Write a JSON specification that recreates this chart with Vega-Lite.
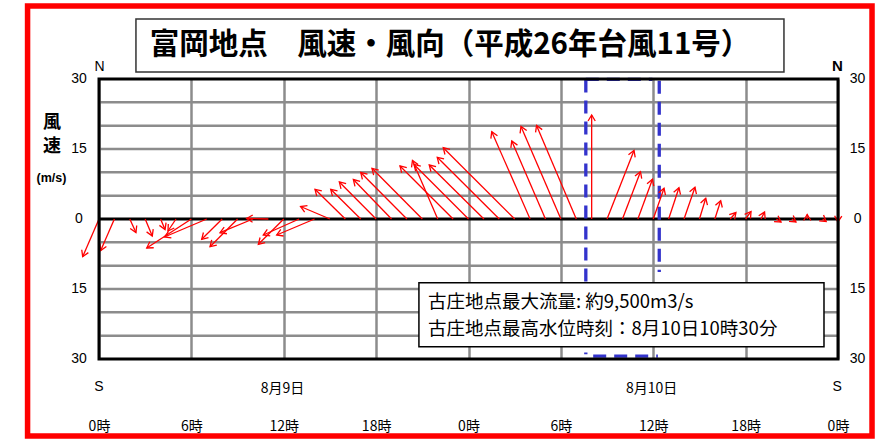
{
 "$schema": "https://vega.github.io/schema/vega-lite/v6.json",
 "width": 739, "height": 280,
 "autosize": "none",
 "padding": {"left": 99, "top": 79, "right": 55, "bottom": 81},
 "background": "white",
 "config": {"view": {"stroke": null}},
 "datasets": {
  "arrows": [
   {"t":0,"base":0,"ex":-1.06,"ey":-8.08,"angle":203.4},
   {"t":1,"base":0,"ex":0.11,"ey":-6.75,"angle":203.5},
   {"t":2,"base":0,"ex":2.40,"ey":-2.89,"angle":155.3},
   {"t":3,"base":0,"ex":3.46,"ey":-3.64,"angle":156.8},
   {"t":4,"base":0,"ex":4.29,"ey":-2.25,"angle":157.3},
   {"t":5,"base":0,"ex":4.48,"ey":-2.57,"angle":213.7},
   {"t":6,"base":0,"ex":3.10,"ey":-6.21,"angle":237.0},
   {"t":7,"base":0,"ex":4.25,"ey":-3.86,"angle":246.9},
   {"t":8,"base":0,"ex":6.67,"ey":-4.35,"angle":225.3},
   {"t":9,"base":0,"ex":7.21,"ey":-5.94,"angle":224.9},
   {"t":10,"base":0,"ex":7.86,"ey":-2.94,"angle":247.5},
   {"t":11,"base":0,"ex":9.59,"ey":0.11,"angle":271.3},
   {"t":12,"base":0,"ex":10.35,"ey":-5.42,"angle":225.2},
   {"t":13,"base":0,"ex":10.67,"ey":-3.43,"angle":245.9},
   {"t":14,"base":0,"ex":11.54,"ey":-3.43,"angle":247.1},
   {"t":15,"base":0,"ex":13.09,"ey":2.68,"angle":293.0},
   {"t":16,"base":0,"ex":14.03,"ey":6.36,"angle":314.4},
   {"t":17,"base":0,"ex":15.05,"ey":6.36,"angle":314.7},
   {"t":18,"base":0,"ex":15.61,"ey":7.93,"angle":315.2},
   {"t":19,"base":0,"ex":16.52,"ey":8.46,"angle":315.6},
   {"t":20,"base":0,"ex":17.00,"ey":9.96,"angle":315.2},
   {"t":21,"base":0,"ex":17.73,"ey":10.86,"angle":315.2},
   {"t":22,"base":0,"ex":20.36,"ey":12.53,"angle":336.7},
   {"t":23,"base":0,"ex":19.55,"ey":11.36,"angle":315.0},
   {"t":24,"base":0,"ex":20.46,"ey":11.68,"angle":315.0},
   {"t":25,"base":0,"ex":21.45,"ey":11.57,"angle":314.7},
   {"t":26,"base":0,"ex":21.97,"ey":13.22,"angle":314.9},
   {"t":27,"base":0,"ex":22.36,"ey":15.28,"angle":315.0},
   {"t":28,"base":0,"ex":25.51,"ey":18.71,"angle":336.3},
   {"t":29,"base":0,"ex":26.81,"ey":16.71,"angle":336.6},
   {"t":30,"base":0,"ex":27.41,"ey":19.82,"angle":336.7},
   {"t":31,"base":0,"ex":28.42,"ey":20.03,"angle":336.9},
   {"t":32,"base":0,"ex":32.0,"ey":22.28,"angle":0},
   {"t":33,"base":0,"ex":34.75,"ey":14.68,"angle":21.4},
   {"t":34,"base":0,"ex":35.17,"ey":10.13,"angle":20.8},
   {"t":35,"base":0,"ex":35.95,"ey":8.51,"angle":20.2},
   {"t":36,"base":0,"ex":36.70,"ey":6.58,"angle":19.2},
   {"t":37,"base":0,"ex":37.67,"ey":6.69,"angle":18.3},
   {"t":38,"base":0,"ex":38.71,"ey":6.79,"angle":19.0},
   {"t":39,"base":0,"ex":39.41,"ey":4.44,"angle":16.9},
   {"t":40,"base":0,"ex":40.38,"ey":3.92,"angle":17.6},
   {"t":41,"base":0,"ex":41.37,"ey":1.39,"angle":41.2},
   {"t":42,"base":0,"ex":42.35,"ey":1.61,"angle":35.2},
   {"t":43,"base":0,"ex":43.23,"ey":1.50,"angle":25.9},
   {"t":44,"base":0,"ex":44.30,"ey":-0.64,"angle":123.7},
   {"t":45,"base":0,"ex":45.27,"ey":-0.64,"angle":126.2},
   {"t":46,"base":0,"ex":46.0,"ey":0.96,"angle":0},
   {"t":47,"base":0,"ex":47.23,"ey":-0.54,"angle":127.1},
   {"t":48,"base":0,"ex":47.99,"ey":-0.64,"angle":183.8}
  ]
 },
 "layer": [
  {
   "data": {"values": [{"x0": -4.64, "x1": 50.21, "y0": 45.64, "y1": -46.5}]},
   "mark": {"type": "rect", "fill": null, "stroke": "#ff0000", "strokeWidth": 5.5},
   "encoding": {
    "x": {"field": "x0", "type": "quantitative",
     "scale": {"domain": [0, 48], "nice": false, "zero": false},
     "axis": {"values": [0, 6, 12, 18, 24, 30, 36, 42, 48], "labelExpr": "(datum.value % 24) + '時'", "title": null, "domain": false, "ticks": false, "tickSize": 0, "labelPadding": 60, "labelFont": "Noto Sans CJK JP", "labelFontSize": 14, "labelColor": "#000000", "labelFlush": false, "labelOverlap": false, "grid": true, "gridColor": "#8c8c8c", "gridWidth": 2.5}},
    "x2": {"field": "x1"},
    "y": {"field": "y0", "type": "quantitative",
     "scale": {"domain": [-30, 30], "nice": false, "zero": false},
     "axis": {"title": null, "labels": false, "grid": false, "domain": false, "ticks": false}},
    "y2": {"field": "y1"}
   }
  },
  {
   "data": {"values": [{"x0": 2.40, "x1": 44.49, "y0": 42.85, "y1": 31.5}]},
   "mark": {"type": "rect", "fill": "#ffffff", "stroke": "#333333", "strokeWidth": 1.5},
   "encoding": {
    "x": {"field": "x0", "type": "quantitative"},
    "x2": {"field": "x1"},
    "y": {"field": "y0", "type": "quantitative"},
    "y2": {"field": "y1"}
   }
  },
  {
   "data": {"values": [{"text": "富岡地点　風速・風向（平成26年台風11号）", "h": 22.8, "v": 37.28}]},
   "mark": {"type": "text", "align": "center", "baseline": "middle", "font": "Noto Sans CJK JP", "fontWeight": "bold", "fontSize": 29.5, "color": "#000000"},
   "encoding": {
    "x": {"field": "h", "type": "quantitative"},
    "y": {"field": "v", "type": "quantitative"},
    "text": {"field": "text"}
   }
  },
  {
   "data": {"values": [
    {"g": -25}, {"g": -20}, {"g": -15}, {"g": -10}, {"g": -5},
    {"g": 5}, {"g": 10}, {"g": 15}, {"g": 20}, {"g": 25}
   ]},
   "mark": {"type": "rule", "color": "#8c8c8c", "strokeWidth": 2.5},
   "encoding": {"y": {"field": "g", "type": "quantitative"}}
  },
  {
   "data": {"values": [{"z": 0}]},
   "mark": {"type": "rule", "color": "#000000", "strokeWidth": 3},
   "encoding": {"y": {"field": "z", "type": "quantitative"}}
  },
  {
   "data": {"values": [
    {"x0": 31.62, "x1": 31.62, "y0": 29.9, "y1": -29.0},
    {"x0": 31.62, "x1": 35.95, "y0": 29.9, "y1": 29.9},
    {"x0": 32.1, "x1": 36.3, "y0": -29.4, "y1": -29.4},
    {"x0": 36.39, "x1": 36.39, "y0": 29.6, "y1": -11.36}
   ]},
   "mark": {"type": "rule", "color": "#3333cc", "strokeWidth": 3.3, "strokeDash": [13, 8]},
   "encoding": {
    "x": {"field": "x0", "type": "quantitative"},
    "x2": {"field": "x1"},
    "y": {"field": "y0", "type": "quantitative"},
    "y2": {"field": "y1"}
   }
  },
  {
   "data": {"name": "arrows"},
   "mark": {"type": "rule", "color": "#ff0000", "strokeWidth": 1.3},
   "encoding": {
    "x": {"field": "t", "type": "quantitative",
     "axis": {"values": [0, 6, 12, 18, 24, 30, 36, 42, 48], "labelExpr": "(datum.value % 24) + '時'", "title": null, "domain": false, "ticks": false, "tickSize": 0, "labelPadding": 60, "labelFont": "Noto Sans CJK JP", "labelFontSize": 14, "labelColor": "#000000", "labelFlush": false, "labelOverlap": false, "grid": true, "gridColor": "#8c8c8c", "gridWidth": 2.5}},
    "x2": {"field": "ex"},
    "y": {"field": "base", "type": "quantitative",
     "axis": {"title": null, "labels": false, "grid": false, "domain": false, "ticks": false}},
    "y2": {"field": "ey"}
   }
  },
  {
   "data": {"name": "arrows"},
   "mark": {"type": "point", "shape": "M-0.6,1L0,0L0.6,1", "filled": false, "size": 144, "strokeWidth": 1.3, "color": "#ff0000", "opacity": 1},
   "encoding": {
    "x": {"field": "ex", "type": "quantitative"},
    "y": {"field": "ey", "type": "quantitative"},
    "angle": {"field": "angle", "type": "quantitative", "scale": null}
   }
  },
  {
   "data": {"values": [{"x0": 0, "x1": 48, "y0": 30, "y1": -30}]},
   "mark": {"type": "rect", "fill": null, "stroke": "#000000", "strokeWidth": 3},
   "encoding": {
    "x": {"field": "x0", "type": "quantitative"},
    "x2": {"field": "x1"},
    "y": {"field": "y0", "type": "quantitative"},
    "y2": {"field": "y1"}
   }
  },
  {
   "data": {"values": [{"x0": 20.78, "x1": 47.09, "y0": -13.65, "y1": -27.36}]},
   "mark": {"type": "rect", "fill": "#ffffff", "stroke": "#000000", "strokeWidth": 1.5},
   "encoding": {
    "x": {"field": "x0", "type": "quantitative"},
    "x2": {"field": "x1"},
    "y": {"field": "y0", "type": "quantitative"},
    "y2": {"field": "y1"}
   }
  },
  {
   "data": {"values": [
    {"text": "古庄地点最大流量: 約9,500m3/s", "h": 21.37, "v": -17.78},
    {"text": "古庄地点最高水位時刻：8月10日10時30分", "h": 21.37, "v": -23.57}
   ]},
   "mark": {"type": "text", "align": "left", "baseline": "middle", "font": "Noto Sans CJK JP", "fontSize": 18.5, "color": "#000000"},
   "encoding": {
    "x": {"field": "h", "type": "quantitative"},
    "y": {"field": "v", "type": "quantitative"},
    "text": {"field": "text"}
   }
  },
  {
   "data": {"values": [
    {"text": "30", "h": -1.30, "v": 30},
    {"text": "15", "h": -1.30, "v": 15},
    {"text": "0", "h": -1.30, "v": 0},
    {"text": "15", "h": -1.30, "v": -15},
    {"text": "30", "h": -1.30, "v": -30},
    {"text": "30", "h": 49.27, "v": 30},
    {"text": "15", "h": 49.27, "v": 15},
    {"text": "0", "h": 49.27, "v": 0},
    {"text": "15", "h": 49.27, "v": -15},
    {"text": "30", "h": 49.27, "v": -30}
   ]},
   "mark": {"type": "text", "align": "center", "baseline": "middle", "font": "Liberation Sans", "fontSize": 14, "color": "#000000"},
   "encoding": {
    "x": {"field": "h", "type": "quantitative"},
    "y": {"field": "v", "type": "quantitative"},
    "text": {"field": "text"}
   }
  },
  {
   "data": {"values": [
    {"text": "N", "h": 0.03, "v": 32.57},
    {"text": "S", "h": 0.0, "v": -36.1},
    {"text": "S", "h": 47.94, "v": -36.1}
   ]},
   "mark": {"type": "text", "align": "center", "baseline": "middle", "font": "Liberation Sans", "fontSize": 14, "color": "#000000"},
   "encoding": {
    "x": {"field": "h", "type": "quantitative"},
    "y": {"field": "v", "type": "quantitative"},
    "text": {"field": "text"}
   }
  },
  {
   "data": {"values": [{"text": "N", "h": 47.97, "v": 32.78}]},
   "mark": {"type": "text", "align": "center", "baseline": "middle", "font": "Liberation Sans", "fontWeight": "bold", "fontSize": 15, "color": "#000000"},
   "encoding": {
    "x": {"field": "h", "type": "quantitative"},
    "y": {"field": "v", "type": "quantitative"},
    "text": {"field": "text"}
   }
  },
  {
   "data": {"values": [
    {"text": "8月9日", "h": 11.92, "v": -36.43},
    {"text": "8月10日", "h": 35.9, "v": -36.43}
   ]},
   "mark": {"type": "text", "align": "center", "baseline": "middle", "font": "Noto Sans CJK JP", "fontSize": 14, "color": "#000000"},
   "encoding": {
    "x": {"field": "h", "type": "quantitative"},
    "y": {"field": "v", "type": "quantitative"},
    "text": {"field": "text"}
   }
  },
  {
   "data": {"values": [
    {"text": "風", "h": -3.05, "v": 20.57},
    {"text": "速", "h": -3.05, "v": 15.53}
   ]},
   "mark": {"type": "text", "align": "center", "baseline": "middle", "font": "Noto Sans CJK JP", "fontWeight": "bold", "fontSize": 18, "color": "#000000"},
   "encoding": {
    "x": {"field": "h", "type": "quantitative"},
    "y": {"field": "v", "type": "quantitative"},
    "text": {"field": "text"}
   }
  },
  {
   "data": {"values": [{"text": "(m/s)", "h": -3.09, "v": 8.78}]},
   "mark": {"type": "text", "align": "center", "baseline": "middle", "font": "Liberation Sans", "fontWeight": "bold", "fontSize": 12.5, "color": "#000000"},
   "encoding": {
    "x": {"field": "h", "type": "quantitative"},
    "y": {"field": "v", "type": "quantitative"},
    "text": {"field": "text"}
   }
  }
 ]
}
